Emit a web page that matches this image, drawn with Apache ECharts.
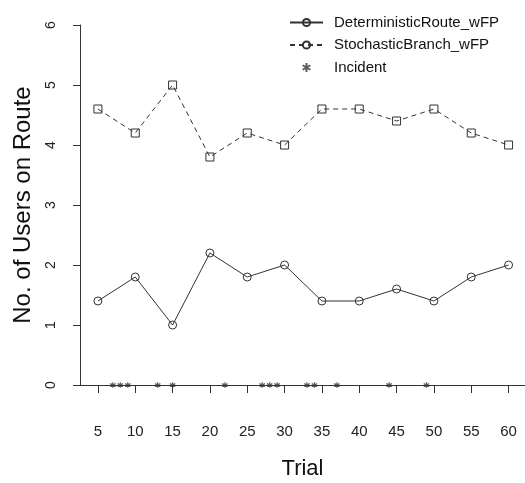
<!DOCTYPE html>
<html>
<head>
<meta charset="utf-8">
<script src="https://cdn.jsdelivr.net/npm/echarts@6/dist/echarts.min.js"></script>
<style>
  html, body { margin: 0; padding: 0; background: #fff; }
  #chart { width: 525px; height: 483px; }
</style>
</head>
<body>
<div id="chart"></div>
<script>
const trials = [5, 10, 15, 20, 25, 30, 35, 40, 45, 50, 55, 60]
const deterministic = [1.4, 1.8, 1.0, 2.2, 1.8, 2.0, 1.4, 1.4, 1.6, 1.4, 1.8, 2.0]
const stochastic = [4.6, 4.2, 5.0, 3.8, 4.2, 4.0, 4.6, 4.6, 4.4, 4.6, 4.2, 4.0]
const incidents = [7, 8, 9, 13, 15, 22, 27, 28, 29, 33, 34, 37, 44, 49]
const yTicks = [0, 1, 2, 3, 4, 5, 6]

const INK = '#333'
const FONT = 'Liberation Sans, Arial, sans-serif'
const ASTERISK = 'path://M0,-5L0,5M-4.33,-2.5L4.33,2.5M-4.33,2.5L4.33,-2.5'

function pairs(xs, ys, extra) {
    return xs.map((x, i) => Object.assign({ value: [x, ys[i]] }, extra || {}))
}

var dom = document.getElementById('chart')
var myChart = echarts.init(dom, null, { renderer: 'canvas' })

var option = {
    animation: false,
    backgroundColor: '#fff',
    textStyle: { fontFamily: FONT },
    grid: { left: 80, right: 0, top: 25, bottom: 98, containLabel: false, outerBoundsMode: 'none' },
    legend: {
        orient: 'vertical',
        left: 284,
        top: 10,
        itemWidth: 33,
        itemHeight: 9,
        itemGap: 7.5,
        textStyle: { fontFamily: FONT, fontSize: 15, color: '#111', padding: [0, 0, 0, 6] },
        data: ['DeterministicRoute_wFP', 'StochasticBranch_wFP', 'Incident']
    },
    xAxis: {
        type: 'value',
        min: 2.6,
        max: 62.2,
        offset: 15,
        name: 'Trial',
        nameLocation: 'middle',
        nameGap: 58,
        nameTextStyle: { fontFamily: FONT, fontSize: 22, color: '#111' },
        axisLine: { show: true, lineStyle: { color: INK, width: 1 } },
        axisTick: { show: true, length: 8, customValues: trials, lineStyle: { color: INK } },
        axisLabel: { customValues: trials, margin: 24, fontSize: 15, color: '#222', fontFamily: FONT },
        splitLine: { show: false }
    },
    yAxis: {
        type: 'value',
        min: 0,
        max: 6,
        interval: 1,
        name: 'No. of Users on Route',
        nameLocation: 'middle',
        nameRotate: 90,
        nameGap: 45,
        nameTextStyle: { fontFamily: FONT, fontSize: 24, color: '#111' },
        axisLine: { show: true, lineStyle: { color: INK, width: 1 } },
        axisTick: { show: true, length: 7, lineStyle: { color: INK } },
        axisLabel: { rotate: 90, margin: 22, fontSize: 14, color: '#222', fontFamily: FONT, formatter: v => yTicks.includes(v) ? String(v) : '' },
        splitLine: { show: false }
    },
    series: [
        {
            name: 'DeterministicRoute_wFP',
            type: 'line',
            data: pairs(trials, deterministic),
            symbol: 'circle',
            symbolSize: 8,
            showAllSymbol: true,
            lineStyle: { color: INK, width: 1 },
            itemStyle: { color: 'rgba(0,0,0,0)', borderColor: INK, borderWidth: 1 },
            z: 3
        },
        {
            name: 'StochasticBranch_wFP',
            type: 'line',
            data: pairs(trials, stochastic, { symbol: 'rect' }),
            symbol: 'circle',
            symbolSize: 8,
            showAllSymbol: true,
            lineStyle: { color: INK, width: 1, type: [5, 4] },
            itemStyle: { color: 'rgba(0,0,0,0)', borderColor: INK, borderWidth: 1 },
            z: 3
        },
        {
            name: 'Incident',
            type: 'scatter',
            data: incidents.map(x => [x, 0]),
            symbol: ASTERISK,
            symbolSize: 5.5,
            itemStyle: { color: 'rgba(0,0,0,0)', borderColor: INK, borderWidth: 1.2 },
            z: 3
        }
    ]
}

option && myChart.setOption(option)
window.addEventListener('resize', myChart.resize)
</script>
</body>
</html>
